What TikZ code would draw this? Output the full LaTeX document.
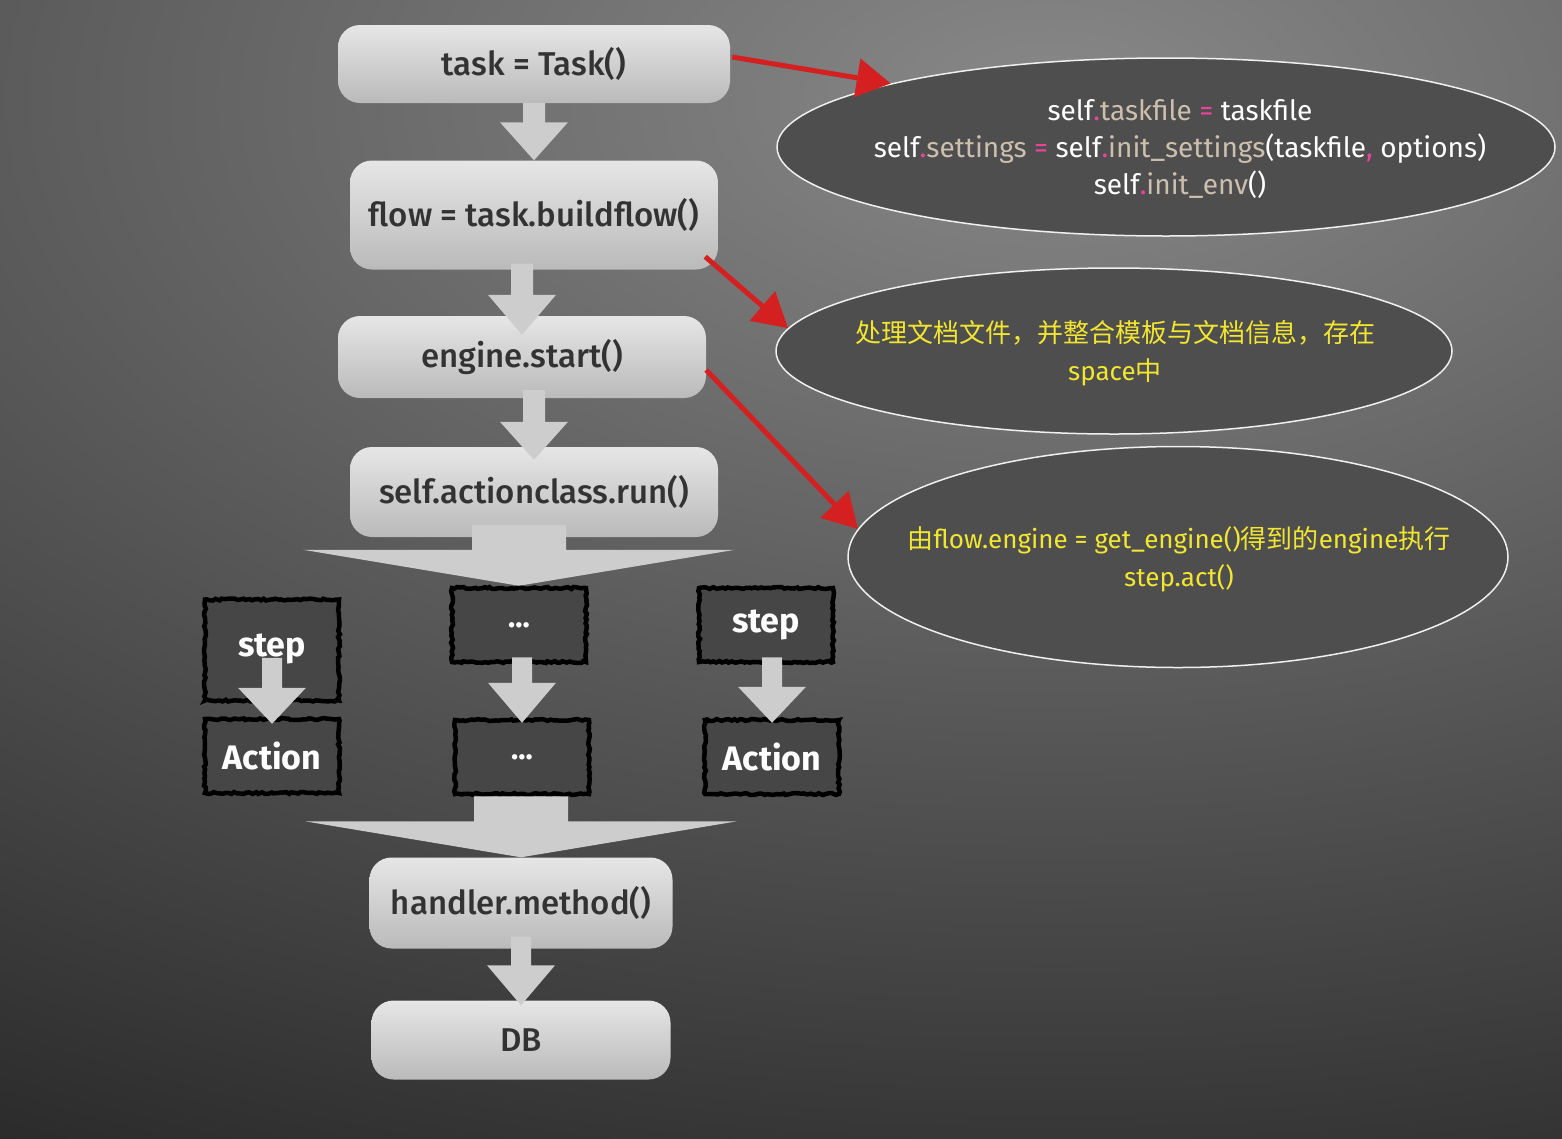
\documentclass[tikz,border=0pt]{standalone}
\usepackage{fontspec}
\setmainfont{Fira Sans}
\newfontfamily\boxfont{Fira Sans Medium}
\newfontfamily\cjk{Noto Sans CJK SC}
\usetikzlibrary{shapes.geometric,arrows.meta,decorations.pathmorphing,calc}

\definecolor{bgdark}{HTML}{262626}
\definecolor{bglight}{HTML}{888888}
\definecolor{boxtop}{HTML}{E6E6E6}
\definecolor{boxbot}{HTML}{BABABA}
\definecolor{boxtext}{HTML}{333333}
\definecolor{arrowgray}{HTML}{CDCDCD}
\definecolor{stepfill}{HTML}{464646}
\definecolor{bubblefill}{HTML}{4E4E4E}
\definecolor{redpen}{HTML}{D42020}
\definecolor{codepink}{HTML}{E8459A}
\definecolor{codetan}{HTML}{CDBFAE}
\definecolor{noteyellow}{HTML}{F2E630}

\newcommand\codepunc[1]{\textcolor{codepink}{#1}}
\newcommand\codeattr[1]{\textcolor{codetan}{#1}}
% fat grey arrow: from, to, stem half width, head half width, head length
\newcommand\blockarr[5]{%
  \fill[arrowgray] let \p1=(#1), \p2=(#2) in
    (\x2-#3,\y1) -- (\x2+#3,\y1) -- (\x2+#3,\y2+#5) -- (\x2+#4,\y2+#5) -- (\p2)
    -- (\x2-#4,\y2+#5) -- (\x2-#3,\y2+#5) -- cycle;}

\tikzset{
  callbox/.style={rounded corners=22pt, top color=boxtop, bottom color=boxbot,
    text=boxtext, font=\boxfont\fontsize{33}{38}\selectfont, inner sep=0pt},
  stepbox/.style={fill=stepfill, draw=black, line width=4.5pt, decorate,
    decoration={random steps,segment length=3pt,amplitude=1pt},
    text=white, font=\fontsize{34}{40}\selectfont\bfseries,
    minimum width=134pt, minimum height=74pt, inner sep=0pt},
  bubble/.style={ellipse, fill=bubblefill, draw=white!88!gray, line width=1.5pt, inner sep=0pt},
  note/.style={align=center, font=\fontsize{28}{37}\selectfont},
  redarrow/.style={draw=redpen, line width=5pt, -{Triangle[length=34pt,width=38pt]}},
}

\begin{document}
\begin{tikzpicture}[x=1pt,y=-1pt]
\useasboundingbox (0,0) rectangle (1562,1138);
\begin{scope}
  \clip (0,0) rectangle (1562,1138);
  \fill[bgdark] (0,0) rectangle (1562,1138);
  \shade[inner color=bglight, outer color=bgdark] (1050,100) ellipse (2300pt and 1250pt);
\end{scope}

% call chain
\foreach \nm/\x/\y/\w/\h/\txt in {task/534/64/392/78/{task = Task()},
    flow/534/215/368/109/{flow = task.buildflow()},
    engine/522/357/368/82/{engine.start()},
    run/534/492/368/90/{self.actionclass.run()},
    handler/521/903/303/91/{handler.method()},
    db/521/1040/299/79/{DB}}
  \node[callbox, minimum width=\w pt, minimum height=\h pt] (\nm) at (\x,\y) {\txt};

% steps
\node[stepbox, minimum height=101pt] (step1) at (272,650) {\raisebox{9pt}{step}};
\node[stepbox] (dots1) at (519,625) {\fontsize{30}{30}\selectfont ...};
\node[stepbox] (step2) at (766,625) {step};
\node[stepbox] (action1) at (272,756) {Action};
\node[stepbox] (dots2) at (522,757) {\fontsize{30}{30}\selectfont ...};
\node[stepbox] (action2) at (772,757) {Action};

\blockarr{task.south}{flow.north}{11pt}{34pt}{38pt}
\blockarr{$(flow.south)+(0,-6)$}{$(engine.north)+(0,19)$}{11pt}{34pt}{40pt}
\blockarr{$(engine.south)+(0,-8)$}{$(run.north)+(0,13)$}{11pt}{34pt}{38pt}
\blockarr{$(run.south)+(0,-12)$}{dots1.north}{47pt}{216pt}{36pt}
\blockarr{$(step1.south)+(0,-45)$}{$(action1.north)+(0,7)$}{10pt}{34pt}{36pt}
\blockarr{$(dots1.south)+(0,-7)$}{$(dots2.north)+(0,5)$}{10pt}{34pt}{40pt}
\blockarr{$(step2.south)+(0,-7)$}{$(action2.north)+(0,5)$}{10pt}{34pt}{36pt}
\blockarr{dots2.south}{handler.north}{47pt}{216pt}{36pt}
\blockarr{$(handler.south)+(0,-12)$}{$(db.north)+(0,5)$}{10pt}{34pt}{40pt}

% notes
\node[bubble, minimum width=778pt, minimum height=178pt] (e1) at (1166,147) {};
\node[bubble, minimum width=676pt, minimum height=166pt] (e2) at (1114,351) {};
\node[bubble, minimum width=660pt, minimum height=221pt] (e3) at (1178,557) {};

\node[note, text=white] (e1text) at (1180,149) {self\codepunc{.}\codeattr{taskfile} \codepunc{=} taskfile\\
  self\codepunc{.}\codeattr{settings} \codepunc{=} self\codepunc{.}\codeattr{init\_settings}(taskfile\codepunc{,} options)\\
  self\codepunc{.}\codeattr{init\_env}()};
\node[note, text=noteyellow, font=\fontsize{26}{38}\selectfont] (e2text) at (1115,353)
  {{\cjk 处理文档文件，并整合模板与文档信息，存在}\\space{\cjk 中}};
\node[note, text=noteyellow, font=\fontsize{26}{38}\selectfont] (e3text) at (1179,559)
  {{\cjk 由}flow.engine = get\_engine(){\cjk 得到的}engine{\cjk 执行}\\step.act()};

\draw[redarrow] ($(task.east)+(2,-7)$) -- (e1.167);
\draw[redarrow] ($(flow.south east)+(-13,-13)$) -- (e2.176);
\draw[redarrow] ($(engine.east)+(0,13)$) -- (e3.175);
\end{tikzpicture}
\end{document}
